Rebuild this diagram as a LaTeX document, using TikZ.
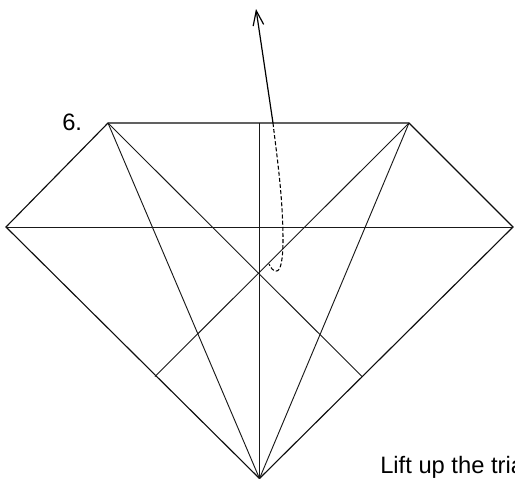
\documentclass[tikz,border=0pt]{standalone}
\usepackage{fontspec}
\setmainfont{Liberation Sans}
\usetikzlibrary{arrows.meta}
\tikzset{
  fold/.style={line width=0.7pt,black!90},
  edge/.style={line width=0.85pt,black!95},
  liftarrow/.style={line width=0.9pt,-{Straight Barb[length=11pt,width=8pt,line width=0.9pt]}},
  liftpath/.style={line width=0.8pt,dash pattern=on 3pt off 1.6pt},
  lab/.style={inner sep=0pt,anchor=base west,font=\fontsize{17.8pt}{20pt}\selectfont}
}
\begin{document}
\begin{tikzpicture}[x=0.75pt,y=-0.75pt]
\useasboundingbox (0,0) rectangle (515,479);
\clip (0,0) rectangle (515,479);
\coordinate (A) at (108,123);
\coordinate (B) at (409,123);
\coordinate (L) at (6,227);
\coordinate (R) at (513,227);
\coordinate (S) at (259.5,478.5);
\coordinate (T) at (259.5,123);
\coordinate (P) at (155,376.5);
\coordinate (Q) at (362,376.5);
\coordinate (H) at (273,123);
\coordinate (U) at (256,9);
\draw[edge] (L) -- (A) -- (B) -- (R) -- (S) -- cycle;
\draw[fold] (L) -- (R);
\draw[fold] (T) -- (S);
\draw[fold] (A) -- (S);
\draw[fold] (B) -- (S);
\draw[fold] (A) -- (Q);
\draw[fold] (B) -- (P);
\draw[liftarrow] (H) -- (U);
\draw[liftpath] (H) .. controls (276,150) and (283,195) .. (283,240)
  .. controls (283,258) and (281,272) .. (276,271)
  .. controls (273,271) and (271,268) .. (269,264);
\node[lab] (six) at (62,130.5) {6.};
\node[lab] (cap) at (380,473.5) {Lift up the tria};
\end{tikzpicture}
\end{document}
